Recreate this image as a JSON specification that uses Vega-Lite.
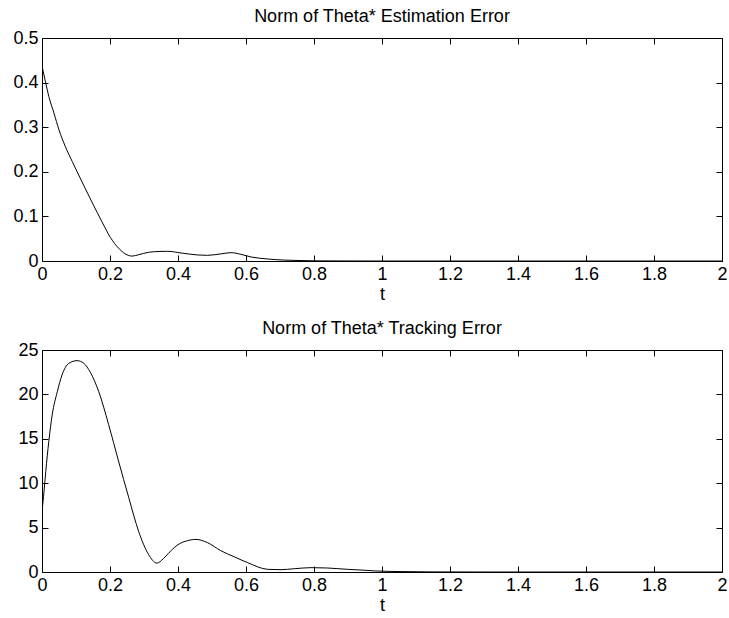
{
  "$schema": "https://vega.github.io/schema/vega-lite/v6.json",
  "padding": {"left": 5, "top": 7, "right": 8, "bottom": 5},
  "background": "white",
  "config": {
    "font": "Liberation Sans",
    "view": {"stroke": "black", "strokeWidth": 1},
    "axis": {
      "labelFont": "Liberation Sans", "titleFont": "Liberation Sans",
      "labelFontSize": 18, "titleFontSize": 18, "titleFontWeight": "normal",
      "labelColor": "black", "titleColor": "black", "tickColor": "black",
      "domain": false, "grid": false, "labelFlush": false, "labelOverlap": false,
      "tickSize": -6, "labelPadding": 10
    },
    "title": {"font": "Liberation Sans", "fontSize": 18, "fontWeight": "normal", "color": "black", "offset": 3}
  },
  "datasets": {
    "est": [
      {"t": 0, "v": 0.437}, {"t": 0.011, "v": 0.399}, {"t": 0.02, "v": 0.369}, {"t": 0.035, "v": 0.332},
      {"t": 0.05, "v": 0.294}, {"t": 0.069, "v": 0.256}, {"t": 0.089, "v": 0.223}, {"t": 0.118, "v": 0.177},
      {"t": 0.147, "v": 0.132}, {"t": 0.177, "v": 0.087}, {"t": 0.201, "v": 0.053}, {"t": 0.225, "v": 0.029},
      {"t": 0.245, "v": 0.016}, {"t": 0.265, "v": 0.011}, {"t": 0.284, "v": 0.014}, {"t": 0.313, "v": 0.0195},
      {"t": 0.35, "v": 0.0215}, {"t": 0.37, "v": 0.0217}, {"t": 0.409, "v": 0.018}, {"t": 0.458, "v": 0.0135},
      {"t": 0.487, "v": 0.0127}, {"t": 0.526, "v": 0.016}, {"t": 0.556, "v": 0.0187}, {"t": 0.585, "v": 0.015},
      {"t": 0.615, "v": 0.009}, {"t": 0.664, "v": 0.0045}, {"t": 0.713, "v": 0.002}, {"t": 0.762, "v": 0.001},
      {"t": 0.8, "v": 0.0004}, {"t": 0.9, "v": 0.0001}, {"t": 1.0, "v": 0}, {"t": 1.5, "v": 0}, {"t": 2.0, "v": 0}
    ],
    "trk": [
      {"t": 0, "v": 6.8}, {"t": 0.006, "v": 9.1}, {"t": 0.011, "v": 11.3}, {"t": 0.02, "v": 14.7},
      {"t": 0.03, "v": 17.7}, {"t": 0.045, "v": 20.3}, {"t": 0.059, "v": 22.2}, {"t": 0.079, "v": 23.5},
      {"t": 0.103, "v": 23.8}, {"t": 0.123, "v": 23.5}, {"t": 0.142, "v": 22.5}, {"t": 0.167, "v": 20.3},
      {"t": 0.196, "v": 16.6}, {"t": 0.225, "v": 12.5}, {"t": 0.255, "v": 8.4}, {"t": 0.284, "v": 4.6},
      {"t": 0.313, "v": 2.0}, {"t": 0.338, "v": 1.0}, {"t": 0.357, "v": 1.5}, {"t": 0.372, "v": 2.1},
      {"t": 0.389, "v": 2.75}, {"t": 0.405, "v": 3.2}, {"t": 0.425, "v": 3.5}, {"t": 0.453, "v": 3.67}, {"t": 0.487, "v": 3.3},
      {"t": 0.526, "v": 2.4}, {"t": 0.566, "v": 1.7}, {"t": 0.605, "v": 1.05}, {"t": 0.664, "v": 0.3},
      {"t": 0.703, "v": 0.26}, {"t": 0.742, "v": 0.37}, {"t": 0.791, "v": 0.49}, {"t": 0.84, "v": 0.45},
      {"t": 0.899, "v": 0.3}, {"t": 0.938, "v": 0.22}, {"t": 0.98, "v": 0.12}, {"t": 1.05, "v": 0.05},
      {"t": 1.15, "v": 0.01}, {"t": 1.3, "v": 0}, {"t": 2.0, "v": 0}
    ]
  },
  "vconcat": [
    {
      "title": "Norm of Theta* Estimation Error",
      "width": 680, "height": 223,
      "data": {"name": "est"},
      "resolve": {"axis": {"x": "independent", "y": "independent"}},
      "layer": [
        {
          "mark": {"type": "line", "color": "black", "strokeWidth": 1, "interpolate": "monotone", "clip": true},
          "encoding": {
            "x": {"field": "t", "type": "quantitative", "scale": {"domain": [0, 2], "nice": false},
                  "axis": {"title": "t", "values": [0, 0.2, 0.4, 0.6, 0.8, 1, 1.2, 1.4, 1.6, 1.8, 2], "format": "~g", "titlePadding": 2}},
            "y": {"field": "v", "type": "quantitative", "scale": {"domain": [0, 0.5], "nice": false},
                  "axis": {"title": null, "values": [0, 0.1, 0.2, 0.3, 0.4, 0.5], "format": "~g", "minExtent": 36, "maxExtent": 36}}
          }
        },
        {
          "mark": {"type": "line", "strokeOpacity": 0},
          "encoding": {
            "x": {"field": "t", "type": "quantitative", "scale": {"domain": [0, 2], "nice": false},
                  "axis": {"orient": "top", "title": null, "labels": false, "values": [0, 0.2, 0.4, 0.6, 0.8, 1, 1.2, 1.4, 1.6, 1.8, 2]}},
            "y": {"field": "v", "type": "quantitative", "scale": {"domain": [0, 0.5], "nice": false},
                  "axis": {"orient": "right", "title": null, "labels": false, "values": [0, 0.1, 0.2, 0.3, 0.4, 0.5]}}
          }
        }
      ]
    },
    {
      "title": "Norm of Theta* Tracking Error",
      "width": 680, "height": 222,
      "data": {"name": "trk"},
      "resolve": {"axis": {"x": "independent", "y": "independent"}},
      "layer": [
        {
          "mark": {"type": "line", "color": "black", "strokeWidth": 1, "interpolate": "monotone", "clip": true},
          "encoding": {
            "x": {"field": "t", "type": "quantitative", "scale": {"domain": [0, 2], "nice": false},
                  "axis": {"title": "t", "values": [0, 0.2, 0.4, 0.6, 0.8, 1, 1.2, 1.4, 1.6, 1.8, 2], "format": "~g", "titlePadding": 2}},
            "y": {"field": "v", "type": "quantitative", "scale": {"domain": [0, 25], "nice": false},
                  "axis": {"title": null, "values": [0, 5, 10, 15, 20, 25], "format": "~g", "minExtent": 36, "maxExtent": 36}}
          }
        },
        {
          "mark": {"type": "line", "strokeOpacity": 0},
          "encoding": {
            "x": {"field": "t", "type": "quantitative", "scale": {"domain": [0, 2], "nice": false},
                  "axis": {"orient": "top", "title": null, "labels": false, "values": [0, 0.2, 0.4, 0.6, 0.8, 1, 1.2, 1.4, 1.6, 1.8, 2]}},
            "y": {"field": "v", "type": "quantitative", "scale": {"domain": [0, 25], "nice": false},
                  "axis": {"orient": "right", "title": null, "labels": false, "values": [0, 5, 10, 15, 20, 25]}}
          }
        }
      ]
    }
  ],
  "spacing": 15
}
